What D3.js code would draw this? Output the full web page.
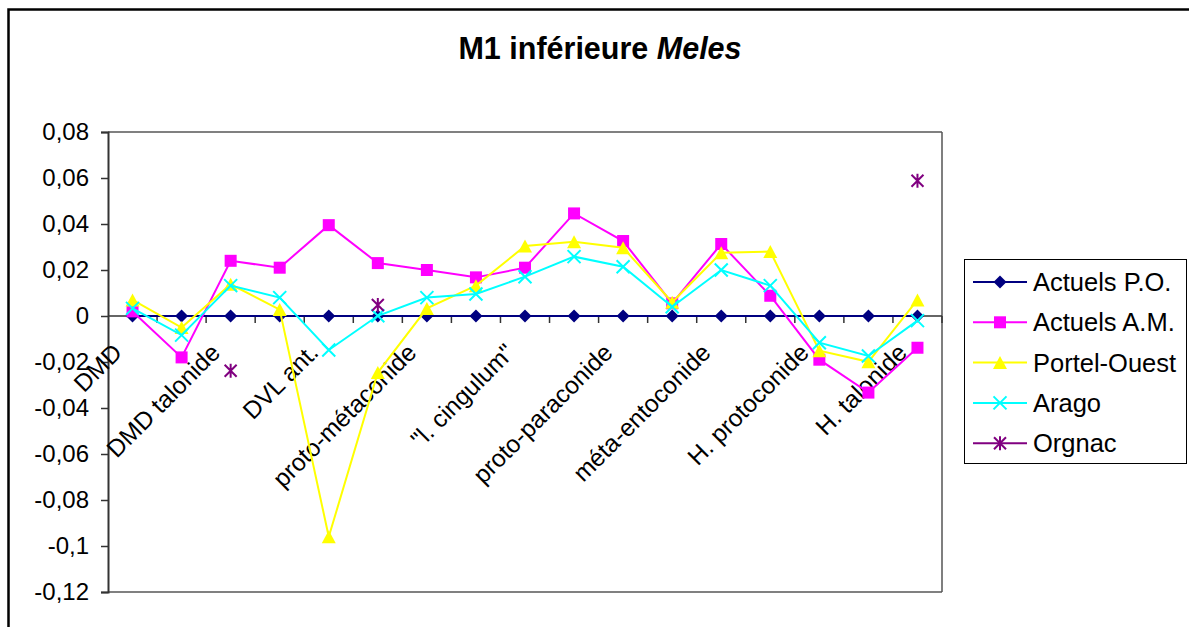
<!DOCTYPE html>
<html>
<head>
<meta charset="utf-8">
<script src="https://cdn.jsdelivr.net/npm/d3@7"></script>
<style>
  html, body { margin: 0; padding: 0; background: #fff; }
  svg { display: block; font-family: Arial, "Liberation Sans", sans-serif; }
</style>
</head>
<body>
<svg id="chart" width="1189" height="627"></svg>
<script>
// ---- Data ----
const title = "M1 inférieure ";
const titleItalic = "Meles";

// 17 measurements; only every second label is displayed on the axis (null = label not shown)
const categories = [
  "DMD", null, "DMD talonide", null, "DVL ant.", null, "proto-métaconide", null,
  "\"l. cingulum\"", null, "proto-paraconide", null, "méta-entoconide", null,
  "H. protoconide", null, "H. talonide"
];

const seriesNames = ["Actuels P.O.", "Actuels A.M.", "Portel-Ouest", "Arago", "Orgnac"];

const actuelsPO = [0, 0, 0, 0, 0, 0, 0, 0, 0, 0, 0, 0, 0, 0, 0, 0, 0];
const actuelsAM = [0.002, -0.018, 0.024, 0.021, 0.0395, 0.023, 0.020, 0.0168, 0.021, 0.0446, 0.0326, 0.0055, 0.0313, 0.0088, -0.019, -0.0333, -0.0138];
const portelOuest = [0.007, -0.005, 0.0138, 0.0028, -0.096, -0.0246, 0.0033, 0.0132, 0.0304, 0.0323, 0.0297, 0.006, 0.0275, 0.028, -0.0151, -0.0199, 0.007];
const arago = [0.0033, -0.0083, 0.0132, 0.008, -0.0148, 0.0001, 0.008, 0.0096, 0.0171, 0.0258, 0.0214, 0.004, 0.020, 0.0132, -0.0116, -0.0174, -0.002];
const orgnac = [null, null, -0.0238, null, null, 0.0048, null, null, null, null, null, null, null, null, null, null, 0.0588];

const yTickValues = [0.08, 0.06, 0.04, 0.02, 0, -0.02, -0.04, -0.06, -0.08, -0.1, -0.12];
const yTickLabels = ["0,08", "0,06", "0,04", "0,02", "0", "-0,02", "-0,04", "-0,06", "-0,08", "-0,1", "-0,12"];

const seriesColors = ["#000080", "#FF00FF", "#FFFF00", "#00FFFF", "#800080"];
const seriesMarkers = ["diamond", "square", "triangle", "x", "star"];
const seriesValues = [actuelsPO, actuelsAM, portelOuest, arago, orgnac];

// ---- Layout ----
const plot = { left: 108, right: 942, top: 132, bottom: 592 };
const svg = d3.select("#chart");

// outer chart frame (cut by the picture on the right and bottom)
svg.append("rect").attr("x", 8.5).attr("y", 9.5).attr("width", 1200).attr("height", 700)
  .attr("fill", "#fff").attr("stroke", "#000").attr("stroke-width", 2.5);

const x = d3.scaleBand().domain(d3.range(categories.length)).range([plot.left, plot.right]).padding(0);
const cx = i => x(i) + x.bandwidth() / 2;
const y = d3.scaleLinear().domain([-0.12, 0.08]).range([plot.bottom, plot.top]);

// plot area frame
svg.append("line").attr("x1", plot.left).attr("x2", plot.right).attr("y1", plot.top).attr("y2", plot.top)
  .attr("stroke", "#808080").attr("stroke-width", 2);
svg.append("line").attr("x1", plot.left).attr("x2", plot.right).attr("y1", plot.bottom).attr("y2", plot.bottom)
  .attr("stroke", "#808080").attr("stroke-width", 2);
svg.append("line").attr("x1", plot.right).attr("x2", plot.right).attr("y1", plot.top).attr("y2", plot.bottom)
  .attr("stroke", "#555").attr("stroke-width", 1.5);

// Title
const t = svg.append("text").attr("x", 600).attr("y", 59).attr("text-anchor", "middle")
  .attr("font-size", 30.5).attr("font-weight", "bold").attr("fill", "#000");
t.append("tspan").text(title);
t.append("tspan").attr("font-style", "italic").text(titleItalic);

// Y axis
const yAxis = d3.axisLeft(y).tickValues(yTickValues)
  .tickFormat((d, i) => yTickLabels[i]).tickSize(7).tickPadding(12);
const gy = svg.append("g").attr("transform", `translate(${plot.left},0)`).call(yAxis);
gy.select(".domain").attr("stroke", "#333").attr("stroke-width", 2);
gy.selectAll(".tick line").attr("stroke", "#333").attr("stroke-width", 1.5);
gy.selectAll(".tick text").attr("font-size", 24).attr("fill", "#000")
  .attr("font-family", "Arial, 'Liberation Sans', sans-serif");

// X axis at zero with ticks at category boundaries
const boundaries = d3.range(categories.length + 1).map(i => plot.left + i * x.bandwidth());
svg.append("line").attr("x1", plot.left).attr("x2", plot.right).attr("y1", y(0)).attr("y2", y(0))
  .attr("stroke", "#333").attr("stroke-width", 1.5);
svg.append("g").selectAll("line").data(boundaries.slice(1)).join("line")
  .attr("x1", d => d).attr("x2", d => d).attr("y1", y(0)).attr("y2", y(0) + 7)
  .attr("stroke", "#333").attr("stroke-width", 1.5);

// X labels (rotated)
svg.append("g").selectAll("text").data(categories.map((c, i) => ({ c, i })).filter(d => d.c !== null))
  .join("text")
  .attr("transform", d => `translate(${cx(d.i) - 9},${y(0) + 38}) rotate(-45)`)
  .attr("text-anchor", "end").attr("font-size", 24.5).attr("fill", "#000")
  .text(d => d.c);

// Marker drawing
function drawMarker(g, type, color, px, py) {
  if (type === "diamond") {
    const h = 6.5;
    g.append("path").attr("d", `M${px},${py - h}L${px + h},${py}L${px},${py + h}L${px - h},${py}Z`).attr("fill", color);
  } else if (type === "square") {
    const h = 6;
    g.append("rect").attr("x", px - h).attr("y", py - h).attr("width", 2 * h).attr("height", 2 * h).attr("fill", color);
  } else if (type === "triangle") {
    const w = 7, hh = 6.5;
    g.append("path").attr("d", `M${px},${py - hh}L${px + w},${py + hh}L${px - w},${py + hh}Z`).attr("fill", color);
  } else if (type === "x") {
    const h = 6.5;
    g.append("path").attr("d", `M${px - h},${py - h}L${px + h},${py + h}M${px - h},${py + h}L${px + h},${py - h}`)
      .attr("stroke", color).attr("stroke-width", 2).attr("fill", "none");
  } else if (type === "star") {
    const h = 6;
    g.append("path").attr("d", `M${px - h},${py - h}L${px + h},${py + h}M${px - h},${py + h}L${px + h},${py - h}M${px},${py - h - 1}L${px},${py + h + 1}`)
      .attr("stroke", color).attr("stroke-width", 2).attr("fill", "none");
  }
}

// Series
const line = d3.line().defined(d => d.v !== null).x(d => cx(d.i)).y(d => y(d.v));
seriesValues.forEach((vals, s) => {
  const g = svg.append("g");
  const pts = vals.map((v, i) => ({ v, i }));
  g.append("path").datum(pts).attr("d", line).attr("fill", "none")
    .attr("stroke", seriesColors[s]).attr("stroke-width", 2);
  pts.filter(d => d.v !== null).forEach(d => drawMarker(g, seriesMarkers[s], seriesColors[s], cx(d.i), y(d.v)));
});

// Legend
const legend = { x: 964, y: 259, w: 222, h: 204 };
svg.append("rect").attr("x", legend.x + 0.5).attr("y", legend.y + 0.5).attr("width", legend.w).attr("height", legend.h)
  .attr("fill", "#fff").attr("stroke", "#000").attr("stroke-width", 1);
seriesNames.forEach((name, s) => {
  const ry = 282 + s * 40.3;
  const g = svg.append("g");
  g.append("line").attr("x1", 973).attr("x2", 1027).attr("y1", ry).attr("y2", ry)
    .attr("stroke", seriesColors[s]).attr("stroke-width", 2);
  drawMarker(g, seriesMarkers[s], seriesColors[s], 1000, ry);
  g.append("text").attr("x", 1033).attr("y", ry).attr("dy", "0.36em")
    .attr("font-size", 25.5).attr("fill", "#000").text(name);
});
</script>
</body>
</html>
